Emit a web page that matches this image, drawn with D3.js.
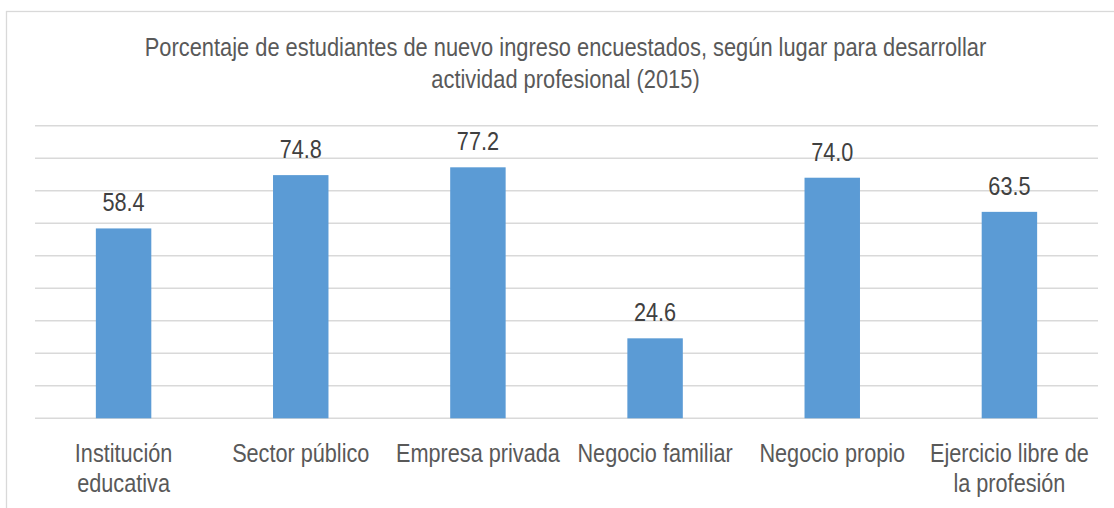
<!DOCTYPE html>
<html>
<head>
<meta charset="utf-8">
<script src="https://cdn.jsdelivr.net/npm/d3@7"></script>
<style>
  html, body { margin: 0; padding: 0; background: #ffffff; }
  svg { display: block; }
  text { font-family: "Liberation Sans", Arial, sans-serif; }
</style>
</head>
<body>
<svg id="chart" width="1114" height="508"></svg>
<script>
// Chart data
const categories = [
  ["Institución", "educativa"],
  ["Sector público"],
  ["Empresa privada"],
  ["Negocio familiar"],
  ["Negocio propio"],
  ["Ejercicio libre de", "la profesión"]
];
const values = [58.4, 74.8, 77.2, 24.6, 74.0, 63.5];
const yTicks = [0, 10, 20, 30, 40, 50, 60, 70, 80, 90];
const titleLines = [
  "Porcentaje de estudiantes de nuevo ingreso encuestados, según lugar para desarrollar",
  "actividad profesional (2015)"
];

const W = 1114, H = 508;
const plot = { left: 35, right: 1098, top: 125.7, bottom: 418.3 };

const svg = d3.select("#chart");

// Chart frame
svg.append("rect")
  .attr("x", 6.5).attr("y", 11.5)
  .attr("width", W + 20).attr("height", H + 20)
  .attr("fill", "#ffffff")
  .attr("stroke", "#d9d9d9")
  .attr("stroke-width", 1.3);

const keys = categories.map(c => c.join(" "));

const x = d3.scaleBand()
  .domain(keys)
  .range([plot.left, plot.right])
  .paddingInner(0.687)
  .paddingOuter(0.687 / 2);

const y = d3.scaleLinear()
  .domain([0, 90])
  .range([plot.bottom, plot.top]);

// Condensed text: horizontal squeeze around the anchor point
function condensed(sel, sx) {
  return sel.attr("transform", function () {
    const t = d3.select(this);
    const px = +t.attr("data-x"), py = +t.attr("data-y");
    return `translate(${px},${py}) scale(${sx},1)`;
  });
}

// Horizontal gridlines
svg.append("g")
  .selectAll("line")
  .data(yTicks)
  .join("line")
  .attr("x1", plot.left).attr("x2", plot.right)
  .attr("y1", d => y(d)).attr("y2", d => y(d))
  .attr("stroke", "#d9d9d9")
  .attr("stroke-width", 1.5);

// Bars
svg.append("g")
  .selectAll("rect")
  .data(values)
  .join("rect")
  .attr("x", (d, i) => x(keys[i]))
  .attr("width", x.bandwidth())
  .attr("y", d => y(d))
  .attr("height", d => y(0) - y(d))
  .attr("fill", "#5b9bd5");

// Value labels
svg.append("g")
  .selectAll("text")
  .data(values)
  .join("text")
  .attr("data-x", (d, i) => x(keys[i]) + x.bandwidth() / 2)
  .attr("data-y", d => y(d) - 17)
  .attr("text-anchor", "middle")
  .attr("font-size", 25.5)
  .attr("fill", "#404040")
  .text(d => d.toFixed(1))
  .call(condensed, 0.85);

// Category labels (x axis)
const catG = svg.append("g")
  .selectAll("text")
  .data(categories)
  .join("text")
  .attr("data-x", (d, i) => x(keys[i]) + x.bandwidth() / 2)
  .attr("data-y", 461.5)
  .attr("text-anchor", "middle")
  .attr("font-size", 25)
  .attr("fill", "#595959")
  .call(condensed, 0.867);
catG.selectAll("tspan")
  .data(d => d)
  .join("tspan")
  .attr("x", 0)
  .attr("dy", (d, i) => i === 0 ? 0 : 30.5)
  .text(d => d);

// Title
svg.append("g")
  .selectAll("text")
  .data(titleLines)
  .join("text")
  .attr("data-x", (plot.left + plot.right) / 2 - 1)
  .attr("data-y", (d, i) => 56 + i * 32)
  .attr("text-anchor", "middle")
  .attr("font-size", 25)
  .attr("fill", "#595959")
  .text(d => d)
  .call(condensed, 0.874);
</script>
</body>
</html>
